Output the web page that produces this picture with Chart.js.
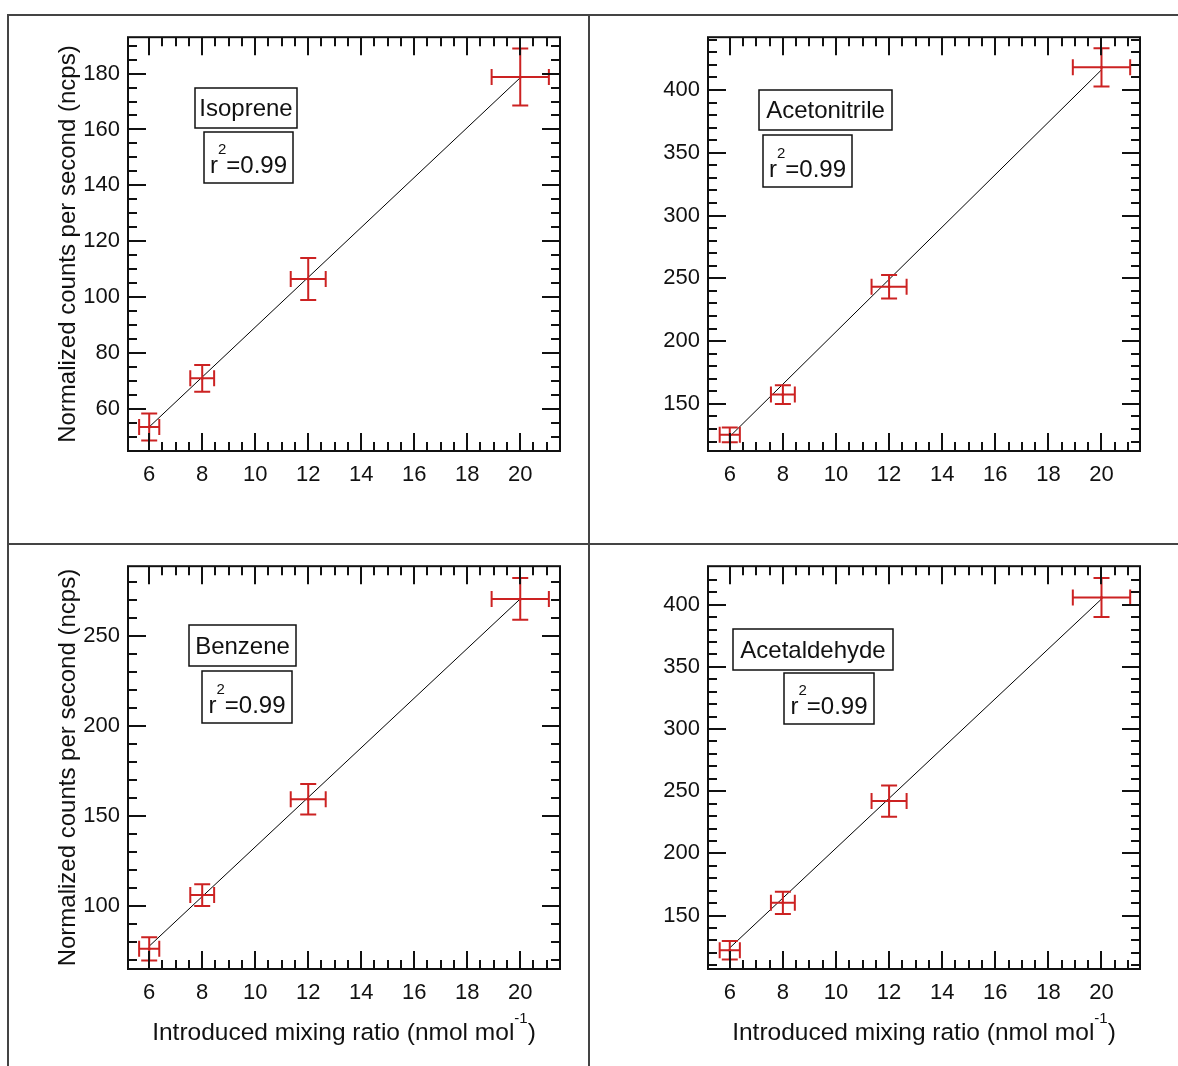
<!DOCTYPE html>
<html>
<head>
<meta charset="utf-8">
<script src="https://cdn.jsdelivr.net/npm/chart.js@4.4.1/dist/chart.umd.min.js"></script>
<style>
body { margin: 0; background: #fff; }
#page { position: relative; width: 1178px; height: 1066px; overflow: hidden; background: #fff; }
.rule { position: absolute; background: #444; }
canvas { position: absolute; }
</style>
</head>
<body>
<div id="page">
    <div class="rule" style="left:7px;top:14px;width:2px;height:1052px"></div>
    <div class="rule" style="left:7px;top:14px;width:1171px;height:2px"></div>
    <div class="rule" style="left:588px;top:14px;width:2px;height:1052px"></div>
    <div class="rule" style="left:7px;top:543px;width:1171px;height:2px"></div>
    <canvas id="isoprene-chart"></canvas>
    <canvas id="acetonitrile-chart"></canvas>
    <canvas id="benzene-chart"></canvas>
    <canvas id="acetaldehyde-chart"></canvas>
</div>
<script>
// shared x data (introduced mixing ratio, nmol/mol)
var xValues = [6, 8, 12, 20];
var xErrors = [0.38, 0.45, 0.66, 1.08];
var xMajorTicks = [6, 8, 10, 12, 14, 16, 18, 20];
var fitX = [6, 20];

// Isoprene
var isopreneY = [53.6, 71.0, 106.5, 178.8];
var isopreneErr = [4.8, 4.8, 7.5, 10.2];
var isopreneFit = [53.6, 178.5];
var isopreneTicks = [60, 80, 100, 120, 140, 160, 180];

// Acetonitrile
var acetonitrileY = [125.4, 157.4, 243.3, 418.0];
var acetonitrileErr = [5.9, 7.5, 9.3, 15.3];
var acetonitrileFit = [124, 416];
var acetonitrileTicks = [150, 200, 250, 300, 350, 400];

// Benzene
var benzeneY = [76.2, 106.1, 159.4, 270.8];
var benzeneErr = [6.5, 6.0, 8.5, 11.6];
var benzeneFit = [77.7, 270.8];
var benzeneTicks = [100, 150, 200, 250];

// Acetaldehyde
var acetaldehydeY = [122.1, 160.2, 242.1, 405.9];
var acetaldehydeErr = [7.4, 9.0, 12.6, 15.7];
var acetaldehydeFit = [124, 404.6];
var acetaldehydeTicks = [150, 200, 250, 300, 350, 400];

var RED = '#cc2222';
var FONT = '"Liberation Sans", Arial, sans-serif';
var CAP = 8;

function steps(start, stop, step) {
    var out = [];
    for (var v = start; v <= stop + 1e-9; v += step) out.push(Math.round(v * 100) / 100);
    return out;
}

var errorBars = {
    id: 'errorBars',
    afterDatasetsDraw: function(chart) {
        var xs = chart.scales.x, ys = chart.scales.y, ctx = chart.ctx;
        ctx.save();
        ctx.strokeStyle = RED;
        ctx.lineWidth = 2;
        chart.data.datasets[1].data.forEach(function(d) {
            var cx = xs.getPixelForValue(d.x), cy = ys.getPixelForValue(d.y);
            var x0 = xs.getPixelForValue(d.x - d.xErr), x1 = xs.getPixelForValue(d.x + d.xErr);
            var y0 = ys.getPixelForValue(d.y - d.yErr), y1 = ys.getPixelForValue(d.y + d.yErr);
            ctx.beginPath();
            ctx.moveTo(x0, cy); ctx.lineTo(x1, cy);
            ctx.moveTo(cx, y0); ctx.lineTo(cx, y1);
            ctx.moveTo(x0, cy - CAP); ctx.lineTo(x0, cy + CAP);
            ctx.moveTo(x1, cy - CAP); ctx.lineTo(x1, cy + CAP);
            ctx.moveTo(cx - CAP, y0); ctx.lineTo(cx + CAP, y0);
            ctx.moveTo(cx - CAP, y1); ctx.lineTo(cx + CAP, y1);
            ctx.stroke();
        });
        ctx.restore();
    }
};

// draws a run of text pieces, each [text, size, dy], for superscripts
function drawSup(ctx, parts, x, y) {
    var total = 0;
    parts.forEach(function(p) { ctx.font = p[1] + 'px ' + FONT; total += ctx.measureText(p[0]).width; });
    var cx = x - total / 2;
    ctx.textAlign = 'left';
    parts.forEach(function(p) {
        ctx.font = p[1] + 'px ' + FONT;
        ctx.fillText(p[0], cx, y + p[2]);
        cx += ctx.measureText(p[0]).width;
    });
}

var frame = {
    id: 'frame',
    afterDraw: function(chart, args, opts) {
        var a = chart.chartArea, ctx = chart.ctx, p = opts.panel;
        var xs = chart.scales.x, ys = chart.scales.y;
        ctx.save();
        ctx.strokeStyle = '#111';
        ctx.lineWidth = 2;
        ctx.strokeRect(a.left, a.top, a.right - a.left, a.bottom - a.top);

        // inward ticks on all four sides
        ctx.beginPath();
        xs.ticks.forEach(function(t) {
            var px = Math.round(xs.getPixelForValue(t.value));
            if (px <= a.left + 1 || px >= a.right - 1) return;
            var len = xMajorTicks.indexOf(t.value) >= 0 ? 18 : 9;
            ctx.moveTo(px, a.bottom); ctx.lineTo(px, a.bottom - len);
            ctx.moveTo(px, a.top); ctx.lineTo(px, a.top + len);
        });
        ys.ticks.forEach(function(t) {
            var py = Math.round(ys.getPixelForValue(t.value));
            if (py <= a.top + 1 || py >= a.bottom - 1) return;
            var len = p.yMajor.indexOf(t.value) >= 0 ? 18 : 9;
            ctx.moveTo(a.left, py); ctx.lineTo(a.left + len, py);
            ctx.moveTo(a.right, py); ctx.lineTo(a.right - len, py);
        });
        ctx.stroke();

        // label boxes
        var nb = p.nameBox, rb = p.r2Box;
        ctx.lineWidth = 1.5;
        ctx.fillStyle = '#fff';
        ctx.fillRect(nb[0], nb[1], nb[2], nb[3]);
        ctx.fillRect(rb[0], rb[1], rb[2], rb[3]);
        ctx.strokeRect(nb[0], nb[1], nb[2], nb[3]);
        ctx.strokeRect(rb[0], rb[1], rb[2], rb[3]);
        ctx.fillStyle = '#111';
        ctx.textAlign = 'center';
        ctx.textBaseline = 'alphabetic';
        ctx.font = '24px ' + FONT;
        ctx.fillText(p.name, nb[0] + nb[2] / 2, nb[1] + nb[3] / 2 + 8);
        drawSup(ctx, [['r', 24, 0], ['2', 15, -19], ['=0.99', 24, 0]], rb[0] + rb[2] / 2, rb[1] + rb[3] - 10);

        // axis titles
        if (p.yTitle) {
            ctx.save();
            ctx.translate(p.yTitleX, (a.top + a.bottom) / 2);
            ctx.rotate(-Math.PI / 2);
            ctx.textAlign = 'center';
            ctx.textBaseline = 'middle';
            ctx.font = '24px ' + FONT;
            ctx.fillText('Normalized counts per second (ncps)', 0, 0);
            ctx.restore();
        }
        if (p.xTitle) {
            ctx.textBaseline = 'alphabetic';
            drawSup(ctx, [['Introduced mixing ratio (nmol mol', 24.5, 0], ['-1', 15, -17], [')', 24.5, 0]],
                (a.left + a.right) / 2, p.xTitleY);
        }
        ctx.restore();
    }
};

function buildPanel(p) {
    var canvas = document.getElementById(p.id);
    canvas.width = p.w;
    canvas.height = p.h;
    canvas.style.left = p.left + 'px';
    canvas.style.top = p.top + 'px';

    var points = xValues.map(function(x, i) {
        return { x: x, y: p.y[i], xErr: xErrors[i], yErr: p.err[i] };
    });
    var fit = fitX.map(function(x, i) { return { x: x, y: p.fit[i] }; });
    var yMinor = steps(Math.ceil(p.yMin / p.yStep) * p.yStep, p.yMax, p.yStep);
    var xMinor = steps(6, 21.5, 0.5);
    var tickFont = { family: FONT, size: 22 };

    return new Chart(canvas, {
        type: 'scatter',
        data: {
            datasets: [
                { type: 'line', data: fit, borderColor: '#000', borderWidth: 1, pointRadius: 0, fill: false, order: 2 },
                { data: points, pointRadius: 1.5, pointBackgroundColor: RED, pointBorderWidth: 0, order: 1 }
            ]
        },
        options: {
            responsive: false,
            animation: false,
            events: [],
            layout: {
                padding: {
                    left: p.area[0] - 60,
                    top: p.area[1],
                    right: p.w - p.area[2],
                    bottom: p.h - p.area[3] - 40
                }
            },
            plugins: { legend: { display: false }, tooltip: { enabled: false }, frame: { panel: p } },
            scales: {
                x: {
                    type: 'linear', min: p.xMin, max: p.xMax,
                    grid: { display: false, drawTicks: false, tickLength: 0 },
                    border: { display: false },
                    afterBuildTicks: function(scale) { scale.ticks = xMinor.map(function(v) { return { value: v }; }); },
                    afterFit: function(scale) { scale.height = 40; },
                    ticks: {
                        autoSkip: false, maxRotation: 0, padding: 11, color: '#111', font: tickFont,
                        callback: function(v) { return xMajorTicks.indexOf(v) >= 0 ? String(v) : ''; }
                    }
                },
                y: {
                    type: 'linear', min: p.yMin, max: p.yMax,
                    grid: { display: false, drawTicks: false, tickLength: 0 },
                    border: { display: false },
                    afterBuildTicks: function(scale) { scale.ticks = yMinor.map(function(v) { return { value: v }; }); },
                    afterFit: function(scale) { scale.width = 60; },
                    ticks: {
                        autoSkip: false, padding: 8, color: '#111', font: tickFont,
                        callback: function(v) { return p.yMajor.indexOf(v) >= 0 ? String(v) : ''; }
                    }
                }
            }
        },
        plugins: [errorBars, frame]
    });
}

var panels = [
    { id: 'isoprene-chart', name: 'Isoprene', left: 10, top: 16, w: 578, h: 526,
      area: [118, 19, 550, 435], xMin: 5.2, xMax: 21.5, yMin: 45, yMax: 193, yStep: 5,
      y: isopreneY, err: isopreneErr, fit: isopreneFit, yMajor: isopreneTicks,
      nameBox: [185, 72, 102, 40], r2Box: [194, 116, 89, 51],
      yTitle: true, yTitleX: 58, xTitle: false },
    { id: 'acetonitrile-chart', name: 'Acetonitrile', left: 591, top: 16, w: 587, h: 526,
      area: [117, 19, 549, 435], xMin: 5.18, xMax: 21.45, yMin: 112.5, yMax: 442, yStep: 10,
      y: acetonitrileY, err: acetonitrileErr, fit: acetonitrileFit, yMajor: acetonitrileTicks,
      nameBox: [168, 74, 133, 40], r2Box: [172, 119, 89, 52],
      yTitle: false, xTitle: false },
    { id: 'benzene-chart', name: 'Benzene', left: 10, top: 545, w: 578, h: 521,
      area: [118, 19, 550, 424], xMin: 5.2, xMax: 21.5, yMin: 65, yMax: 289, yStep: 10,
      y: benzeneY, err: benzeneErr, fit: benzeneFit, yMajor: benzeneTicks,
      nameBox: [179, 80, 107, 41], r2Box: [192, 126, 90, 52],
      yTitle: true, yTitleX: 58, xTitle: true, xTitleY: 495 },
    { id: 'acetaldehyde-chart', name: 'Acetaldehyde', left: 591, top: 545, w: 587, h: 521,
      area: [117, 19, 549, 424], xMin: 5.18, xMax: 21.45, yMin: 107, yMax: 431, yStep: 10,
      y: acetaldehydeY, err: acetaldehydeErr, fit: acetaldehydeFit, yMajor: acetaldehydeTicks,
      nameBox: [142, 84, 160, 41], r2Box: [193, 128, 90, 51],
      yTitle: false, xTitle: true, xTitleY: 495 }
];

panels.forEach(buildPanel);
</script>
</body>
</html>
